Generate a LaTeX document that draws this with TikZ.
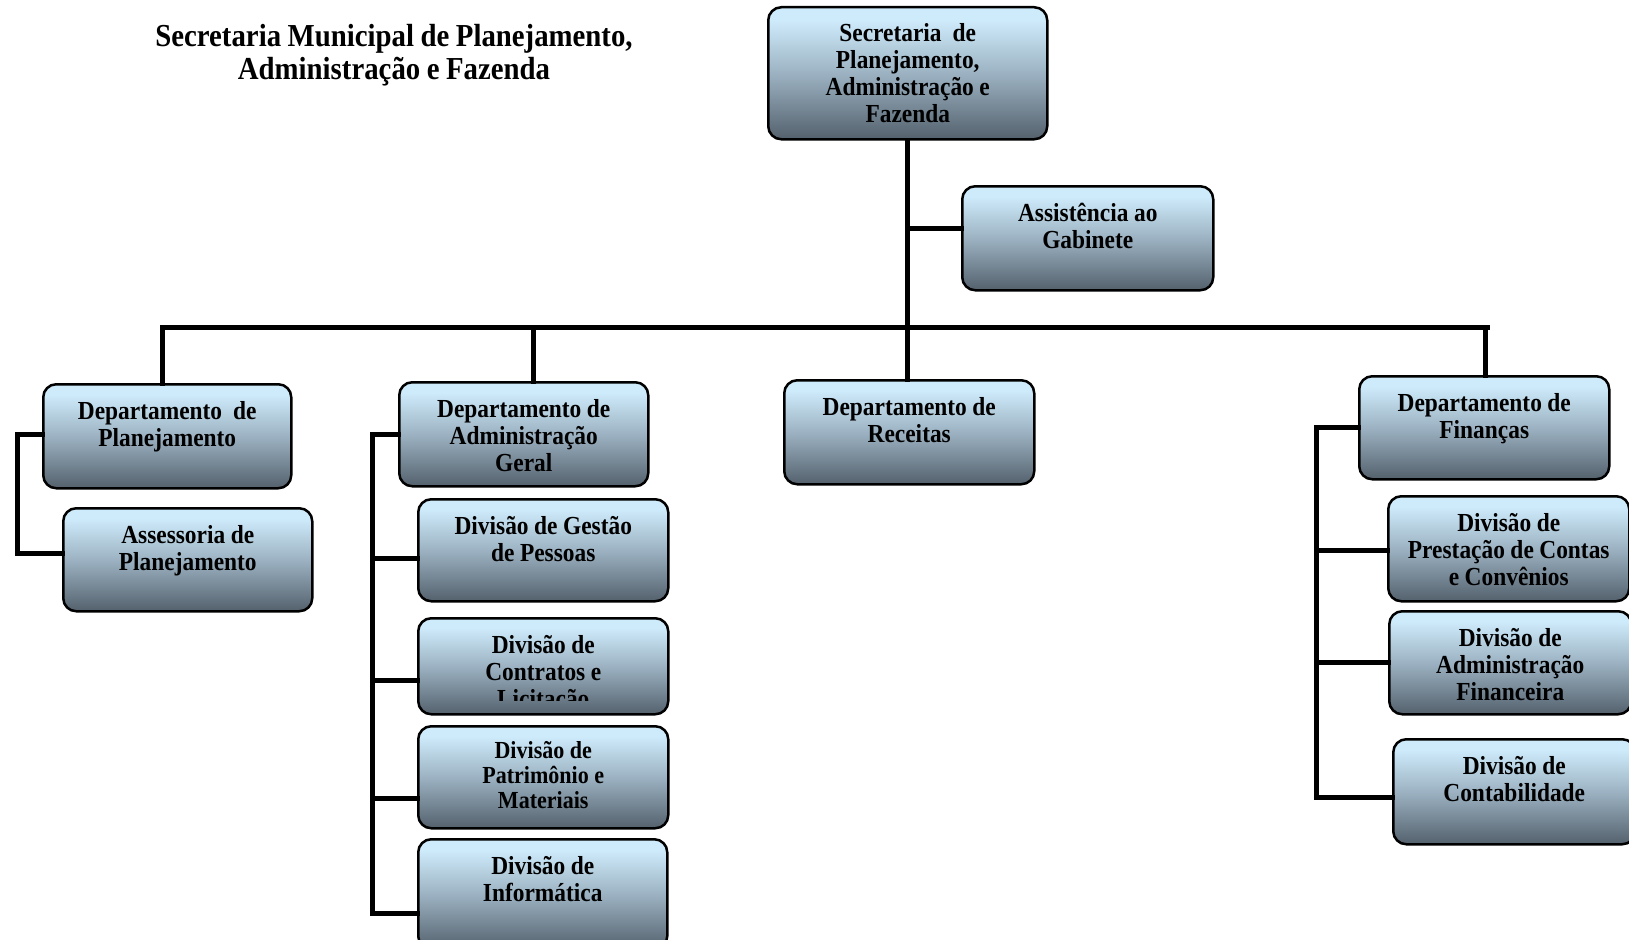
\documentclass[tikz,border=0pt]{standalone}
\usepackage{fontspec}
\setmainfont{Liberation Serif}[FakeStretch=0.9]
\definecolor{bxdark}{RGB}{84,97,109}
\definecolor{bxmid}{RGB}{156,178,194}
\definecolor{bxlight}{RGB}{206,235,251}
\pgfdeclareverticalshading{boxshade}{100bp}{color(0bp)=(bxdark); color(25bp)=(bxdark); color(50bp)=(bxmid); color(70bp)=(bxlight); color(100bp)=(bxlight)}
\begin{document}
\begin{tikzpicture}[x=1pt,y=-1pt,
  box/.style={draw=black, line width=2.5pt, rounded corners=13pt, shading=boxshade, inner sep=0pt, anchor=north west},
  lbl/.style={anchor=base, align=center, text width=245pt, font=\fontsize{26}{27}\selectfont\bfseries, inner sep=0pt, execute at begin node={\spaceskip=5.5pt\relax}},
  ttl/.style={anchor=base, align=center, text width=520pt, font=\fontsize{32}{33}\selectfont\bfseries, inner sep=0pt, execute at begin node={\spaceskip=6.5pt\relax}},
  conn/.style={line width=5pt, line cap=rect, line join=miter}]
\clip (0,0) rectangle (1629,939);
% title
\node[ttl] (title) at (394,47) {Secretaria Municipal de Planejamento,\\Administração e Fazenda};
% boxes
\node[box, minimum width=279pt, minimum height=132pt] (sec) at (767,6) {};
\node[box, minimum width=251pt, minimum height=104pt] (assist) at (961,185) {};
\node[box, minimum width=248pt, minimum height=104pt] (dplan) at (42,383) {};
\node[box, minimum width=249pt, minimum height=103pt] (assess) at (62,507) {};
\node[box, minimum width=249pt, minimum height=104pt] (dadm) at (398,381) {};
\node[box, minimum width=250pt, minimum height=102pt] (gestao) at (417,498) {};
\node[box, minimum width=250pt, minimum height=96pt] (contr) at (417,617) {};
\node[box, minimum width=250pt, minimum height=102pt] (patr) at (417,725) {};
\node[box, minimum width=249pt, minimum height=110pt] (info) at (417,838) {};
\node[box, minimum width=250pt, minimum height=104pt] (drec) at (783,379) {};
\node[box, minimum width=250pt, minimum height=103pt] (dfin) at (1358,375) {};
\node[box, minimum width=241pt, minimum height=105pt] (prest) at (1387,495) {};
\node[box, minimum width=242pt, minimum height=103pt] (admfin) at (1388,610) {};
\node[box, minimum width=242pt, minimum height=105pt] (contab) at (1392,738) {};
% labels
\node[lbl] (sec-t) at ([yshift=-36pt]sec.north) {Secretaria \ de\\Planejamento,\\Administração e\\Fazenda};
\node[lbl] (assist-t) at ([yshift=-36pt]assist.north) {Assistência ao\\Gabinete};
\node[lbl] (dplan-t) at ([yshift=-36pt]dplan.north) {Departamento \ de\\Planejamento};
\node[lbl] (assess-t) at ([yshift=-36pt]assess.north) {Assessoria de\\Planejamento};
\node[lbl] (dadm-t) at ([yshift=-36pt]dadm.north) {Departamento de\\Administração\\Geral};
\node[lbl] (gestao-t) at ([yshift=-36pt]gestao.north) {Divisão de Gestão\\de Pessoas};
\begin{scope}
\clip (417,617) rectangle (667,700);
\node[lbl] (contr-t) at ([yshift=-36pt]contr.north) {Divisão de\\Contratos e\\Licitação};
\end{scope}
\node[lbl, font=\fontsize{24.5}{25}\selectfont\bfseries] (patr-t) at ([yshift=-33pt]patr.north) {Divisão de\\Patrimônio e\\Materiais};
\node[lbl] (info-t) at ([yshift=-36pt]info.north) {Divisão de\\Informática};
\node[lbl] (drec-t) at ([yshift=-36pt]drec.north) {Departamento de\\Receitas};
\node[lbl] (dfin-t) at ([yshift=-36pt]dfin.north) {Departamento de\\Finanças};
\node[lbl] (prest-t) at ([yshift=-36pt]prest.north) {Divisão de\\Prestação de Contas\\e Convênios};
\node[lbl] (admfin-t) at ([yshift=-36pt]admfin.north) {Divisão de\\Administração\\Financeira};
\node[lbl] (contab-t) at ([yshift=-36pt]contab.north) {Divisão de\\Contabilidade};
% connectors
\coordinate (barL) at (162,327);
\coordinate (barR) at (1487,327);
\coordinate (dA) at (533,327);
\coordinate (dF) at (1485,327);
\coordinate (asj) at (907,228);
\draw[conn] (sec.south -| asj) -- (asj |- drec.north);
\draw[conn] (asj) -- (asj -| assist.west);
\draw[conn] (barL) -- (barR);
\draw[conn] (barL) -- (barL |- dplan.north);
\draw[conn] (dA) -- (dA |- dadm.north);
\draw[conn] (dF) -- (dF |- dfin.north);
% planejamento bracket
\coordinate (pbT) at (17,434);
\coordinate (pbB) at (17,553);
\draw[conn] (pbT -| dplan.west) -- (pbT) -- (pbB) -- (pbB -| assess.west);
% administracao bracket
\coordinate (abT) at (372,434);
\coordinate (ab1) at (372,558);
\coordinate (ab2) at (372,680);
\coordinate (ab3) at (372,798);
\coordinate (ab4) at (372,913);
\draw[conn] (abT -| dadm.west) -- (abT) -- (ab4) -- (ab4 -| info.west);
\draw[conn] (ab1) -- (ab1 -| gestao.west);
\draw[conn] (ab2) -- (ab2 -| contr.west);
\draw[conn] (ab3) -- (ab3 -| patr.west);
% financas bracket
\coordinate (fbT) at (1316,427);
\coordinate (fb1) at (1316,550);
\coordinate (fb2) at (1316,662);
\coordinate (fb3) at (1316,797);
\draw[conn] (fbT -| dfin.west) -- (fbT) -- (fb3) -- (fb3 -| contab.west);
\draw[conn] (fb1) -- (fb1 -| prest.west);
\draw[conn] (fb2) -- (fb2 -| admfin.west);
\end{tikzpicture}
\end{document}
